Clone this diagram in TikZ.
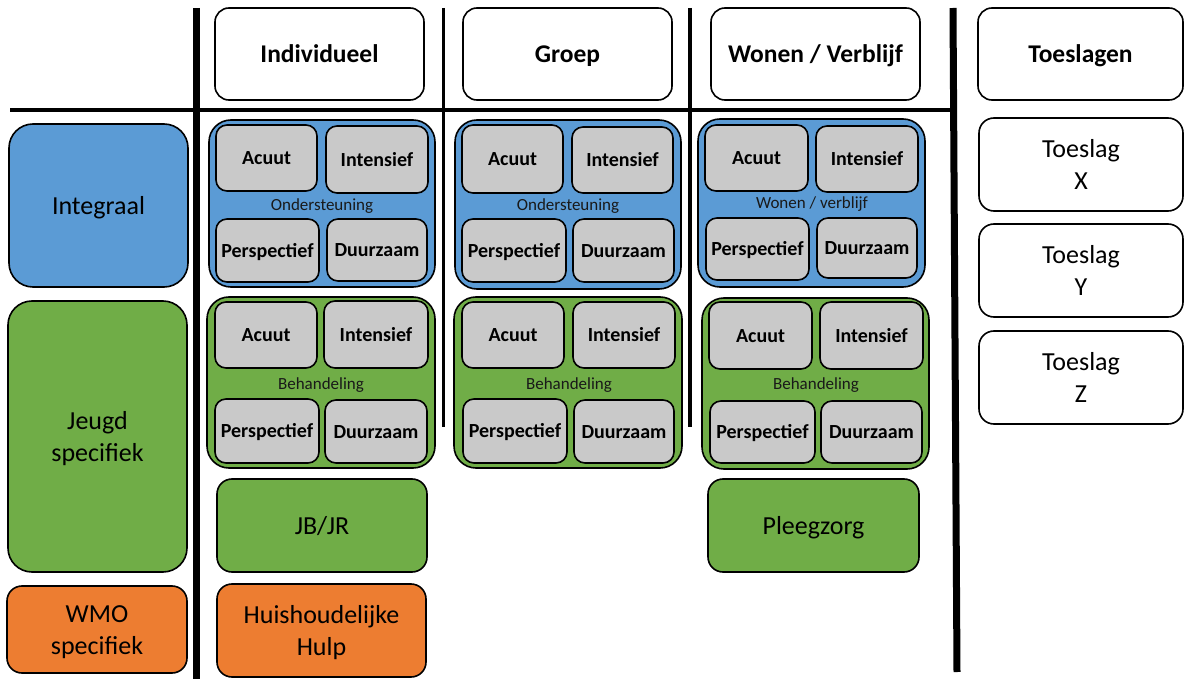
\documentclass[tikz,border=0pt]{standalone}
\usepackage{fontspec}
\setmainfont{Carlito}
\definecolor{cblue}{RGB}{91,155,213}
\definecolor{cgreen}{RGB}{112,173,71}
\definecolor{corange}{RGB}{237,125,49}
\definecolor{cgray}{RGB}{201,201,201}
\newcommand\cstrut{\vrule width0pt height0.95em depth0.27em\relax}
\newcommand\mybx[7]{%
  \pgfmathsetmacro\myBW{#5-#3}\pgfmathsetmacro\myBH{#6-#4}%
  \node[#2, minimum width=\myBW pt, minimum height=\myBH pt] (#1) at ({(#3+#5)/2},{(#4+#6)/2}) {#7};}
\tikzset{
  base/.style={draw=black, line width=1.6pt, inner sep=0pt, align=center, text=black},
  headbox/.style={base, fill=white, rounded corners=14pt, font=\fontsize{25.5}{31.2}\selectfont\bfseries},
  sidebox/.style={base, rounded corners=24pt, font=\fontsize{26}{32}\selectfont},
  smallside/.style={base, rounded corners=15pt, font=\fontsize{26}{32}\selectfont},
  groupbox/.style={base, rounded corners=22pt},
  cell/.style={base, fill=cgray, rounded corners=11pt, font=\fontsize{20}{24.5}\selectfont\bfseries},
  toebox/.style={base, fill=white, rounded corners=15pt, font=\fontsize{26}{32}\selectfont},
  glabel/.style={inner sep=0pt, text=black!90, font=\fontsize{17}{21}\selectfont},
  thickrule/.style={line width=7pt, black},
  midrule/.style={line width=3.6pt, black},
  thinrule/.style={line width=3.4pt, black},
}
\begin{document}
\begin{tikzpicture}[x=1pt,y=-1pt]
\useasboundingbox (0,0) rectangle (1184,679);
% rules
\coordinate (v1t) at (196,8); \coordinate (v1b) at (196,679);
\coordinate (v2t) at (443.5,8); \coordinate (v2b) at (443.5,427);
\coordinate (v3t) at (690,8); \coordinate (v3b) at (690,427);
\coordinate (v4t) at (953,8); \coordinate (v4b) at (957,672);
\coordinate (hl) at (10,110); \coordinate (hr) at (952,110);
\draw[midrule] (hl) -- (hr);
\draw[thickrule] (v1t) -- (v1b);
\draw[thinrule] (v2t) -- (v2b);
\draw[thinrule] (v3t) -- (v3b);
\draw[thickrule] (v4t) -- (v4b);
% headers
\mybx{hInd}{headbox}{215}{8}{424}{100}{\cstrut Individueel}
\mybx{hGro}{headbox}{463}{8}{672}{100}{\cstrut Groep}
\mybx{hWon}{headbox}{711}{8}{920}{100}{\cstrut Wonen / Verblijf}
\mybx{hToe}{headbox}{978}{8}{1183}{100}{\cstrut Toeslagen}
% left column
\mybx{lInt}{sidebox,fill=cblue}{9}{124}{188}{287}{\cstrut Integraal}
\mybx{lJeu}{sidebox,fill=cgreen}{8}{301}{187}{572}{\cstrut Jeugd\\specifiek\cstrut}
\mybx{lWmo}{smallside,fill=corange}{7}{586}{187}{673}{\cstrut WMO\\specifiek\cstrut}
% Individueel: blue
\mybx{gIB}{groupbox,fill=cblue}{209}{120}{435}{287}{}
\mybx{iBa}{cell}{216}{125}{317}{191}{\cstrut Acuut}
\mybx{iBi}{cell}{326}{126}{428}{193}{\cstrut Intensief}
\mybx{iBp}{cell}{216}{219}{319}{282}{\cstrut Perspectief}
\mybx{iBd}{cell}{327}{219}{427}{281}{\cstrut Duurzaam}
\node[glabel] (lIB) at (322,205) {\cstrut Ondersteuning};
% Individueel: green
\mybx{gIG}{groupbox,fill=cgreen}{207}{297}{435}{468}{}
\mybx{iGa}{cell}{215}{302}{317}{368}{\cstrut Acuut}
\mybx{iGi}{cell}{324}{301}{428}{368}{\cstrut Intensief}
\mybx{iGp}{cell}{215}{399}{319}{463}{\cstrut Perspectief}
\mybx{iGd}{cell}{325}{400}{427}{463}{\cstrut Duurzaam}
\node[glabel] (lIG) at (321,383.5) {\cstrut Behandeling};
\mybx{jbjr}{smallside,fill=cgreen}{217}{479}{427}{572}{\cstrut JB/JR}
\mybx{hh}{smallside,fill=corange}{217}{584}{426}{677}{\cstrut Huishoudelijke\\Hulp\cstrut}
% Groep: blue
\mybx{gGB}{groupbox,fill=cblue}{455}{120}{681}{289}{}
\mybx{gBa}{cell}{462}{125}{563}{193}{\cstrut Acuut}
\mybx{gBi}{cell}{572}{127}{673}{193}{\cstrut Intensief}
\mybx{gBp}{cell}{462}{219}{566}{282}{\cstrut Perspectief}
\mybx{gBd}{cell}{573}{219}{674}{282}{\cstrut Duurzaam}
\node[glabel] (lGB) at (568,205) {\cstrut Ondersteuning};
% Groep: green
\mybx{gGG}{groupbox,fill=cgreen}{454}{297}{682}{468}{}
\mybx{gGa}{cell}{462}{302}{564}{368}{\cstrut Acuut}
\mybx{gGi}{cell}{573}{302}{675}{368}{\cstrut Intensief}
\mybx{gGp}{cell}{463}{399}{567}{463}{\cstrut Perspectief}
\mybx{gGd}{cell}{574}{400}{674}{463}{\cstrut Duurzaam}
\node[glabel] (lGG) at (569,383.5) {\cstrut Behandeling};
% Wonen: blue
\mybx{gWB}{groupbox,fill=cblue}{698}{119}{925}{287}{}
\mybx{wBa}{cell}{705}{125}{808}{191}{\cstrut Acuut}
\mybx{wBi}{cell}{816}{126}{918}{192}{\cstrut Intensief}
\mybx{wBp}{cell}{706}{218}{809}{280}{\cstrut Perspectief}
\mybx{wBd}{cell}{817}{218}{917}{278}{\cstrut Duurzaam}
\node[glabel] (lWB) at (812,203) {\cstrut Wonen / verblijf};
% Wonen: green
\mybx{gWG}{groupbox,fill=cgreen}{702}{298}{929}{469}{}
\mybx{wGa}{cell}{709}{302}{812}{369}{\cstrut Acuut}
\mybx{wGi}{cell}{820}{302}{923}{369}{\cstrut Intensief}
\mybx{wGp}{cell}{710}{401}{815}{463}{\cstrut Perspectief}
\mybx{wGd}{cell}{821}{401}{922}{463}{\cstrut Duurzaam}
\node[glabel] (lWG) at (816,383.5) {\cstrut Behandeling};
\mybx{pleeg}{smallside,fill=cgreen}{708}{479}{919}{572}{\cstrut Pleegzorg}
% Toeslagen
\mybx{tX}{toebox}{979}{118}{1183}{211}{\cstrut Toeslag\\X\cstrut}
\mybx{tY}{toebox}{979}{224}{1183}{317}{\cstrut Toeslag\\Y\cstrut}
\mybx{tZ}{toebox}{979}{331}{1183}{424}{\cstrut Toeslag\\Z\cstrut}
\end{tikzpicture}
\end{document}
